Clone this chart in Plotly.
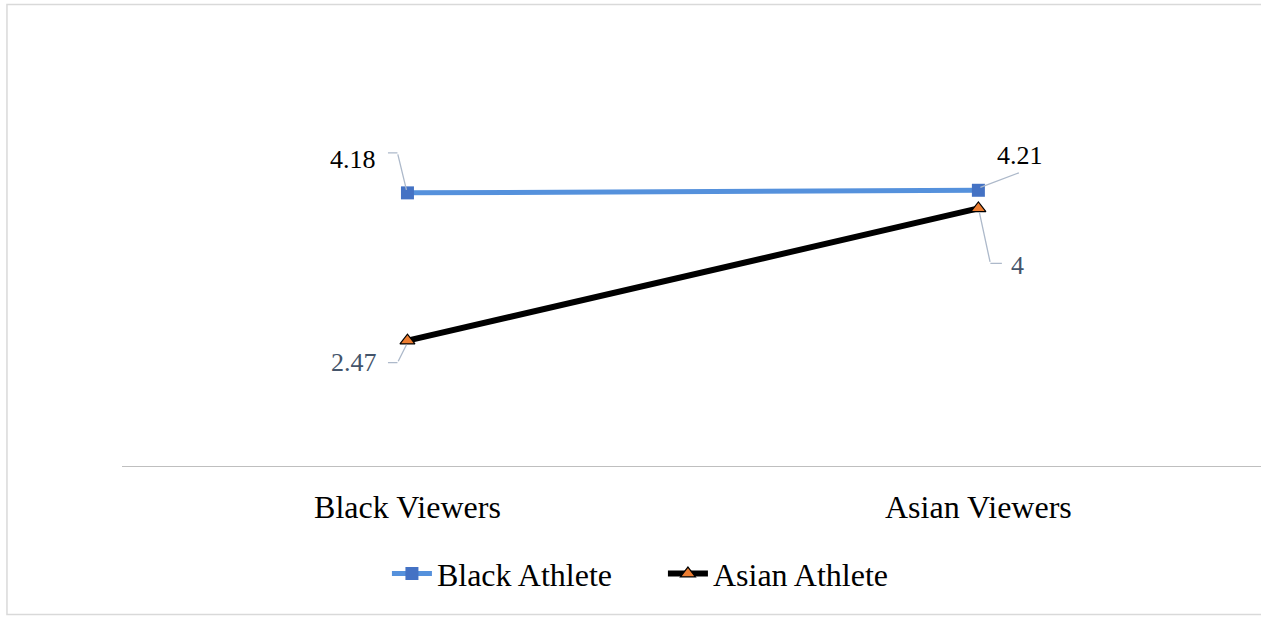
import plotly.graph_objects as go

categories = ["Black Viewers", "Asian Viewers"]
black_athlete = [4.18, 4.21]
asian_athlete = [2.47, 4.0]
black_labels = ["4.18", "4.21"]
asian_labels = ["2.47", "4"]

SERIF = "Liberation Serif, Times New Roman, serif"
LEADER = "#ADB9CA"

fig = go.Figure()
fig.add_trace(go.Scatter(
    x=[0, 1], y=black_athlete, mode="lines+markers", name="Black Athlete",
    line=dict(color="#5591DC", width=5),
    marker=dict(symbol="square", size=13, color="#4472C4"),
))
fig.add_trace(go.Scatter(
    x=[0, 1], y=asian_athlete, mode="lines+markers", name="Asian Athlete",
    line=dict(color="#000000", width=6),
    marker=dict(symbol="triangle-up", size=13, color="#ED7D31",
                line=dict(color="#000000", width=1.2)),
))


def leader(x, y, segs):
    for sx, sy, ex, ey in segs:
        fig.add_annotation(x=x, y=y, text="", showarrow=True, arrowhead=0,
                           arrowwidth=1.3, arrowcolor=LEADER, standoff=0,
                           xshift=sx, yshift=-sy, ax=ex - sx, ay=ey - sy)


def label(x, y, txt, dx, dy, color):
    fig.add_annotation(x=x, y=y, text=txt, showarrow=False, xshift=dx, yshift=-dy,
                       font=dict(family=SERIF, size=26, color=color))


label(0, black_athlete[0], black_labels[0], -54, -33, "#000000")
leader(0, black_athlete[0], [(-1, -3, -10, -40), (-10, -40, -21, -40)])
label(1, black_athlete[1], black_labels[1], 42, -35, "#000000")
leader(1, black_athlete[1], [(2, -3, 42, -18)])
label(0, asian_athlete[0], asian_labels[0], -53, 22, "#44546A")
leader(0, asian_athlete[0], [(-1, 4, -10, 22), (-10, 22, -21, 22)])
label(1, asian_athlete[1], asian_labels[1], 39, 57, "#44546A")
leader(1, asian_athlete[1], [(1, 4, 12, 55), (12, 55, 25, 55)])

fig.update_layout(
    width=1261, height=618,
    margin=dict(l=122, r=0, t=20, b=152),
    paper_bgcolor="white", plot_bgcolor="white",
    showlegend=True,
    legend=dict(orientation="h", x=0.2326, xanchor="left", y=-0.18, yanchor="top",
                font=dict(family=SERIF, size=32, color="#000000"),
                entrywidth=221, entrywidthmode="pixels",
                itemwidth=40, tracegroupgap=0),
    xaxis=dict(range=[-0.5, 1.495], tickvals=[0, 1], ticktext=categories,
               showline=True, linecolor="#BFBFBF", linewidth=1.2,
               showgrid=False, zeroline=False, ticks="",
               tickfont=dict(family=SERIF, size=32, color="#000000"),
               ticklabelstandoff=12),
    yaxis=dict(range=[1.02, 6.18], visible=False),
    shapes=[dict(type="rect", xref="paper", yref="paper", x0=-0.101, x1=1.2,
                 y0=-0.333, y1=1.035, line=dict(color="#D9D9D9", width=1.5),
                 layer="below")],
)
fig.write_html("out.html")
